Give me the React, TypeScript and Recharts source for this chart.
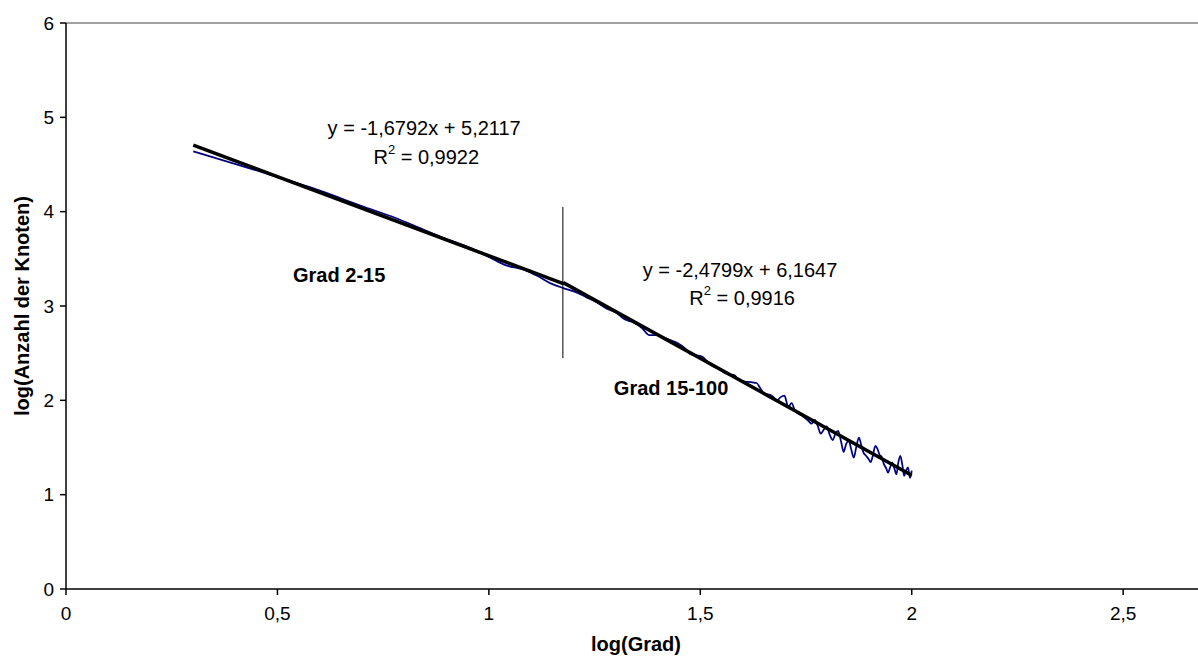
import React from "react";
import { LineChart, Line, XAxis, YAxis, ReferenceLine, ReferenceDot } from "recharts";

const logGrad = [
  0.301, 0.477, 0.602, 0.699, 0.778, 0.845, 0.903, 0.954, 1.0, 1.041,
  1.079, 1.114, 1.146, 1.176, 1.204, 1.23, 1.255, 1.279, 1.301, 1.322,
  1.342, 1.362, 1.38, 1.398, 1.415, 1.431, 1.447, 1.462, 1.477, 1.491,
  1.505, 1.519, 1.531, 1.544, 1.556, 1.568, 1.58, 1.591, 1.602, 1.613,
  1.623, 1.633, 1.643, 1.653, 1.663, 1.672, 1.681, 1.69, 1.699, 1.708,
  1.716, 1.724, 1.732, 1.74, 1.748, 1.756, 1.763, 1.771, 1.778, 1.785,
  1.792, 1.799, 1.806, 1.813, 1.82, 1.826, 1.833, 1.839, 1.845, 1.851,
  1.857, 1.863, 1.869, 1.875, 1.881, 1.886, 1.892, 1.898, 1.903, 1.908,
  1.914, 1.919, 1.924, 1.929, 1.934, 1.94, 1.944, 1.949, 1.954, 1.959,
  1.964, 1.968, 1.973, 1.978, 1.982, 1.987, 1.991, 1.996, 2.0,
];

const logAnzahl = [
  4.64, 4.4, 4.22, 4.06, 3.935, 3.81, 3.705, 3.62, 3.52, 3.43,
  3.39, 3.32, 3.24, 3.19, 3.15, 3.094, 3.04, 2.97, 2.93, 2.856,
  2.826, 2.767, 2.69, 2.69, 2.666, 2.635, 2.606, 2.558, 2.49, 2.477,
  2.462, 2.398, 2.358, 2.336, 2.295, 2.276, 2.267, 2.219, 2.2, 2.195,
  2.19, 2.184, 2.12, 2.065, 2.06, 2.038, 1.996, 2.034, 2.05, 1.93,
  1.97, 1.889, 1.858, 1.839, 1.81, 1.78, 1.752, 1.793, 1.725, 1.647,
  1.69, 1.723, 1.636, 1.579, 1.652, 1.676, 1.56, 1.454, 1.539, 1.573,
  1.478, 1.393, 1.508, 1.605, 1.52, 1.446, 1.412, 1.378, 1.345, 1.412,
  1.518, 1.485, 1.422, 1.4, 1.327, 1.275, 1.233, 1.291, 1.339, 1.277,
  1.215, 1.334, 1.412, 1.311, 1.2, 1.259, 1.288, 1.177, 1.255,
];

const fit1X = [0.301, 1.176];
const fit1Y = [4.706, 3.237];
const fit2X = [1.176, 2.0];
const fit2Y = [3.248, 1.205];

const xTicks = [0, 0.5, 1, 1.5, 2, 2.5];
const yTicks = [0, 1, 2, 3, 4, 5, 6];

const splitX = 1.175;
const splitYRange = [2.447, 4.05];

const dataSeries = logGrad.map((x, i) => ({ x, y: logAnzahl[i] }));
const fit1 = fit1X.map((x, i) => ({ x, y: fit1Y[i] }));
const fit2 = fit2X.map((x, i) => ({ x, y: fit2Y[i] }));

const FONT = "'Liberation Sans', Arial, sans-serif";

type Ann = { x: number; y: number; kind: "eq" | "r2" | "bold"; text: string };
const annotations: Ann[] = [
  { x: 0.847, y: 4.885, kind: "eq", text: "y = -1,6792x + 5,2117" },
  { x: 0.852, y: 4.58, kind: "r2", text: " = 0,9922" },
  { x: 0.646, y: 3.33, kind: "bold", text: "Grad 2-15" },
  { x: 1.594, y: 3.382, kind: "eq", text: "y = -2,4799x + 6,1647" },
  { x: 1.599, y: 3.086, kind: "r2", text: " = 0,9916" },
  { x: 1.431, y: 2.132, kind: "bold", text: "Grad 15-100" },
];

const fmt = (v: number) => String(v).replace(".", ",");

const renderAnn = (a: Ann) => (props: any) => {
  const { cx, cy } = props;
  if (a.kind === "bold") {
    return (
      <text x={cx} y={cy} textAnchor="middle" dominantBaseline="central" fontFamily={FONT} fontSize={20} fontWeight="bold" fill="#000">
        {a.text}
      </text>
    );
  }
  if (a.kind === "r2") {
    return (
      <text x={cx} y={cy} textAnchor="middle" dominantBaseline="central" fontFamily={FONT} fontSize={20} fill="#000">
        <tspan>R</tspan>
        <tspan fontSize={13} dy={-8}>2</tspan>
        <tspan dy={8}>{a.text}</tspan>
      </text>
    );
  }
  return (
    <text x={cx} y={cy} textAnchor="middle" dominantBaseline="central" fontFamily={FONT} fontSize={20} fill="#000">
      {a.text}
    </text>
  );
};

export default function App() {
  return (
    <div style={{ position: "fixed", left: 0, top: 0, width: 1198, height: 660, background: "#fff" }}>
      <LineChart width={1198} height={660} margin={{ top: 23, right: 0, bottom: 0, left: 0 }}>
        <XAxis
          type="number"
          dataKey="x"
          domain={[0, 2.677]}
          ticks={xTicks}
          allowDataOverflow
          tickFormatter={fmt}
          height={71}
          stroke="#000"
          strokeWidth={1.5}
          tickSize={6}
          tick={{ fill: "#000", fontFamily: FONT, fontSize: 19, dy: 10 }}
          label={{
            content: () => (
              <text x={636} y={644} textAnchor="middle" dominantBaseline="central" fontFamily={FONT} fontSize={20} fontWeight="bold" fill="#000">
                log(Grad)
              </text>
            ),
          }}
        />
        <YAxis
          type="number"
          dataKey="y"
          domain={[0, 6]}
          ticks={yTicks}
          width={66}
          stroke="#000"
          strokeWidth={1.5}
          tickSize={6}
          tick={{ fill: "#000", fontFamily: FONT, fontSize: 19, dx: -4 }}
          label={{
            content: () => (
              <text x={22} y={306} textAnchor="middle" dominantBaseline="central" transform="rotate(-90, 22, 306)" fontFamily={FONT} fontSize={20} fontWeight="bold" fill="#000">
                log(Anzahl der Knoten)
              </text>
            ),
          }}
        />
        <ReferenceLine y={6} stroke="#808080" strokeWidth={1.5} />
        <Line data={dataSeries} dataKey="y" type="monotone" stroke="#000080" strokeWidth={1.75} dot={false} isAnimationActive={false} />
        <Line data={fit1} dataKey="y" type="linear" stroke="#000" strokeWidth={3.5} dot={false} isAnimationActive={false} />
        <Line data={fit2} dataKey="y" type="linear" stroke="#000" strokeWidth={3.5} dot={false} isAnimationActive={false} />
        <ReferenceLine
          segment={[
            { x: splitX, y: splitYRange[0] },
            { x: splitX, y: splitYRange[1] },
          ]}
          stroke="#000"
          strokeWidth={1}
        />
        {annotations.map((a, i) => (
          <ReferenceDot key={i} x={a.x} y={a.y} r={0} shape={renderAnn(a)} />
        ))}
      </LineChart>
    </div>
  );
}
